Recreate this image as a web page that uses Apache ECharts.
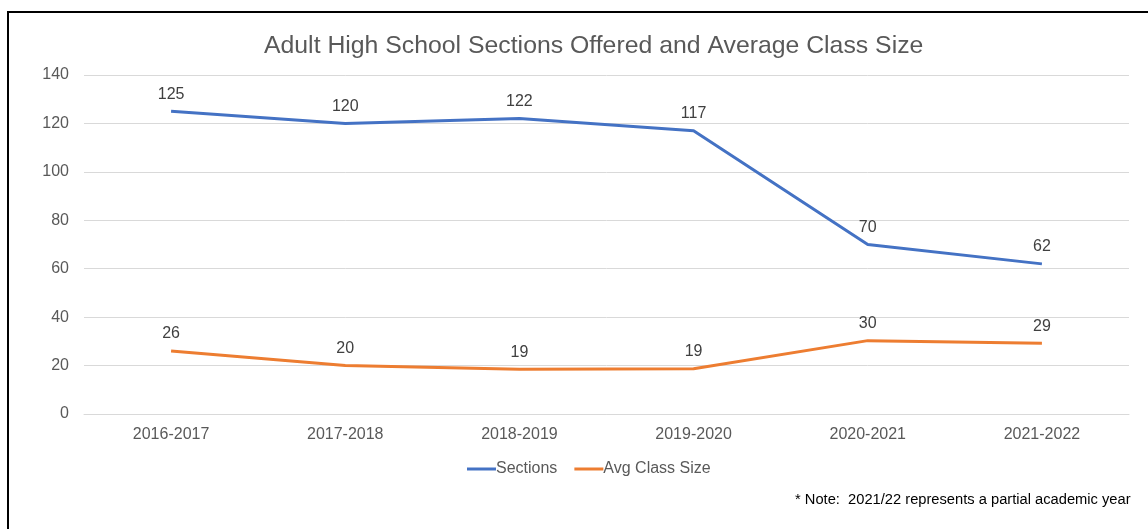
<!DOCTYPE html>
<html>
<head>
<meta charset="utf-8">
<script src="https://cdn.jsdelivr.net/npm/echarts@6/dist/echarts.min.js"></script>
<style>
  html, body { margin: 0; padding: 0; background: #fff; }
  #frame {
    position: absolute; left: 7px; top: 11px; width: 1160px; height: 540px;
    border-left: 2px solid #000; border-top: 2px solid #000;
  }
  #chart { position: absolute; left: 0; top: 0; width: 1148px; height: 529px; }
</style>
</head>
<body>
<div id="frame"></div>
<div id="chart"></div>
<script>
const years = ['2016-2017', '2017-2018', '2018-2019', '2019-2020', '2020-2021', '2021-2022']
const sections = [125, 120, 122, 117, 70, 62]
const avgClassSize = [26, 20, 18.5, 18.7, 30.3, 29.2]

const font = 'Liberation Sans, Arial'
const chart = echarts.init(document.getElementById('chart'))
const labelStyle = {
  show: true,
  position: 'top',
  distance: 9,
  color: '#404040',
  fontSize: 16,
  fontFamily: font,
  formatter: p => String(Math.round(p.value))
}
chart.setOption({
  animation: false,
  title: {
    text: 'Adult High School Sections Offered and Average Class Size',
    left: 259,
    top: 29,
    textStyle: { color: '#595959', fontSize: 24.8, fontWeight: 'normal', fontFamily: font }
  },
  legend: {
    top: 456,
    left: 462,
    itemWidth: 29,
    itemHeight: 3,
    itemGap: 17,
    icon: 'rect',
    textStyle: { color: '#595959', fontSize: 16, fontFamily: font, padding: [0, 0, 0, -5] },
    data: ['Sections', 'Avg Class Size']
  },
  grid: { left: 84, right: 19, top: 75, bottom: 115 },
  xAxis: {
    type: 'category',
    data: years,
    axisLine: { lineStyle: { color: '#d9d9d9' } },
    axisTick: { show: false },
    axisLabel: { color: '#595959', fontSize: 16, margin: 13, fontFamily: font }
  },
  yAxis: {
    type: 'value',
    min: 0,
    max: 140,
    interval: 20,
    axisLabel: { color: '#595959', fontSize: 16, margin: 15, fontFamily: font },
    splitLine: { lineStyle: { color: '#d9d9d9' } }
  },
  graphic: [{
    type: 'text',
    left: 795,
    top: 492,
    style: {
      text: '* Note:  2021/22 represents a partial academic year',
      fill: '#000',
      fontSize: 14.7,
      fontFamily: font
    }
  }],
  series: [
    {
      name: 'Sections',
      type: 'line',
      data: sections,
      symbol: 'circle',
      symbolSize: 0,
      showSymbol: true,
      color: '#4472C4',
      lineStyle: { width: 3 },
      label: labelStyle
    },
    {
      name: 'Avg Class Size',
      type: 'line',
      data: avgClassSize,
      symbol: 'circle',
      symbolSize: 0,
      showSymbol: true,
      color: '#ED7D31',
      lineStyle: { width: 3 },
      label: labelStyle
    }
  ]
})
</script>
</body>
</html>
